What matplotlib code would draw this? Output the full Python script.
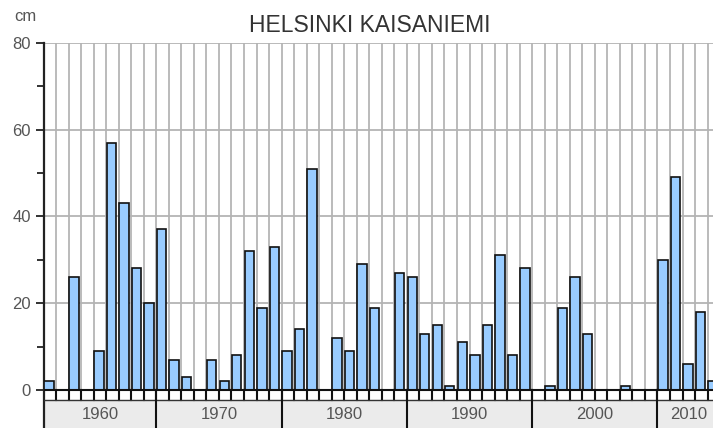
import numpy as np
import matplotlib.pyplot as plt

plt.rcParams['font.family'] = ['Liberation Sans', 'DejaVu Sans']

# winter snow depth maxima, Helsinki Kaisaniemi (cm)
years = list(range(1961, 2015))
snow = [2, 0, 26, 0, 9, 57, 43, 28, 20,
        37, 7, 3, 0, 7, 2, 8, 32, 19, 33,
        9, 14, 51, 0, 12, 9, 29, 19, 0, 27,
        26, 13, 15, 1, 11, 8, 15, 31, 8, 28,
        0, 1, 19, 26, 13, 0, 0, 1, 0, 0,
        30, 49, 6, 18, 2]
decades = [1960, 1970, 1980, 1990, 2000, 2010]
title = 'HELSINKI KAISANIEMI'

x0, x1 = 1961, 2014.43
ybot = -8.75      # bottom of the decade label strip
ystrip = -2.3     # bottom of the tick strip

fig = plt.figure(figsize=(7.13, 4.28), dpi=100)
ax = fig.add_axes([43.5 / 713, 0, 1 - 43.5 / 713, 1 - 42.7 / 428])

# grid
for yr in range(x0 + 1, 2015):
    ax.plot([yr, yr], [0, 80], color='#a8a8a8', lw=1.1, zorder=1)
for g in [20, 40, 60, 80]:
    ax.axhline(g, color='#b4b4b4', lw=1.3, zorder=1)

# bars
yrs = np.array(years)
vals = np.array(snow)
m = vals > 0
ax.bar(yrs[m] + 0.05, vals[m], width=0.75, align='edge',
       color='#99ccff', edgecolor='#111111', linewidth=1.2, zorder=3)

# zero line and tick strip
ax.axhline(0, color='#111111', lw=1.5, zorder=4)
for yr in range(x0 + 1, 2015):
    ax.plot([yr, yr], [ystrip, 0], color='#111111', lw=1.5, zorder=4)
ax.axhline(ystrip, color='#333333', lw=1.0, zorder=4)
ax.axhspan(ybot, ystrip, color='#ebebeb', zorder=0)

# decade boxes
for d in decades:
    a = max(d, x0)
    b = min(d + 10, 2015)
    if d > x0:
        ax.plot([d, d], [ybot, 0], color='#111111', lw=1.5, zorder=5)
    ax.text((a + b) / 2, (ybot + ystrip) / 2 - 0.2, str(d), ha='center', va='center',
            fontsize=12, color='#555555', zorder=6)

ax.set_xlim(x0, x1)
ax.set_ylim(ybot, 80)
ax.set_xticks([])
ax.set_yticks([0, 20, 40, 60, 80])
ax.set_yticks([10, 30, 50, 70], minor=True)
ax.tick_params(axis='y', which='major', length=6, width=1.3, color='#222222',
               labelsize=12, labelcolor='#555555', pad=3)
ax.tick_params(axis='y', which='minor', length=5, width=1.3, color='#222222')
for s in ['top', 'right', 'bottom']:
    ax.spines[s].set_visible(False)
ax.spines['left'].set_color('#222222')
ax.spines['left'].set_linewidth(1.6)

fig.text(370 / 713, 1 - 31.7 / 428, title, ha='center', va='baseline',
         fontsize=16.5, color='#333333')
fig.text(14 / 713, 1 - 20.7 / 428, 'cm', ha='left', va='baseline',
         fontsize=12, color='#555555')

fig.savefig('out.png', dpi=100)
